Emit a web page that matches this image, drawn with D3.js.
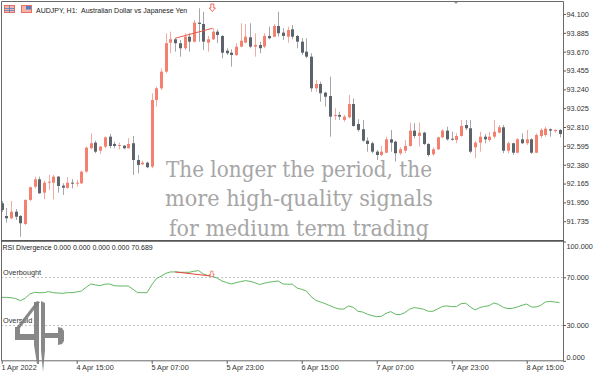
<!DOCTYPE html>
<html>
<head>
<meta charset="utf-8">
<script src="https://cdn.jsdelivr.net/npm/d3@7"></script>
<style>
  body { margin: 0; background: #fff; }
  svg text { font-family: "Liberation Sans", Arial, sans-serif; }
</style>
</head>
<body>
<div class="chart"></div>
<script>
// AUDJPY H1 candles, 1 Apr 23:00 .. 8 Apr 22:00
var open = [
  91.940, 91.795, 91.769, 91.844, 91.795, 91.704, 91.978, 92.130, 92.214, 92.061,
  92.175, 92.175, 92.244, 92.141, 92.115, 92.175, 92.168, 92.168, 92.301, 92.568,
  92.632, 92.540, 92.586, 92.700, 92.617, 92.594, 92.597, 92.568, 92.625, 92.434,
  92.385, 92.403, 92.358, 93.119, 93.252, 93.442, 93.773, 93.811, 93.766, 93.709,
  93.841, 93.784, 94.001, 93.986, 93.773, 93.811, 93.898, 93.849, 93.681, 93.658,
  93.632, 93.727, 93.773, 93.834, 93.727, 93.746, 93.727, 93.849, 93.841, 93.963,
  93.887, 93.841, 93.925, 93.849, 93.784, 93.670, 93.613, 93.252, 93.301, 93.202,
  93.164, 92.936, 92.948, 92.891, 92.921, 93.073, 92.845, 92.785, 92.654, 92.625,
  92.529, 92.491, 92.517, 92.670, 92.643, 92.511, 92.540, 92.594, 92.769, 92.708,
  92.746, 92.617, 92.499, 92.556, 92.693, 92.769, 92.677, 92.662, 92.708, 92.833,
  92.796, 92.579, 92.632, 92.700, 92.662, 92.700, 92.746, 92.807, 92.540, 92.625,
  92.517, 92.670, 92.625, 92.670, 92.517, 92.708, 92.719, 92.785, 92.762, 92.777
];
var high = [
  91.966, 91.886, 91.966, 91.875, 91.806, 91.986, 92.130, 92.244, 92.244, 92.198,
  92.263, 92.263, 92.252, 92.168, 92.237, 92.214, 92.206, 92.312, 92.586, 92.739,
  92.654, 92.594, 92.700, 92.731, 92.643, 92.632, 92.605, 92.682, 92.708, 92.491,
  92.426, 92.415, 93.195, 93.270, 93.480, 93.880, 93.898, 93.823, 93.803, 93.880,
  93.880, 94.031, 94.165, 94.126, 93.849, 93.937, 93.925, 93.860, 93.709, 93.697,
  93.766, 93.994, 93.986, 93.994, 93.880, 93.784, 93.880, 93.955, 93.986, 94.126,
  93.937, 93.955, 93.974, 93.860, 93.823, 93.823, 93.652, 93.347, 93.327, 93.213,
  93.385, 93.024, 92.985, 92.948, 93.176, 93.138, 92.899, 92.891, 92.693, 92.643,
  92.548, 92.594, 92.700, 92.776, 92.654, 92.579, 92.662, 92.860, 92.853, 92.860,
  92.757, 92.625, 92.579, 92.700, 92.785, 92.814, 92.757, 92.739, 92.891, 92.891,
  92.891, 92.654, 92.757, 92.731, 92.757, 92.891, 92.833, 92.833, 92.643, 92.632,
  92.682, 92.739, 92.776, 92.682, 92.739, 92.796, 92.814, 92.796, 92.785, 92.785
];
var low = [
  91.841, 91.719, 91.758, 91.750, 91.559, 91.692, 91.966, 92.111, 92.046, 91.986,
  92.092, 91.986, 92.061, 92.035, 92.107, 92.111, 92.130, 92.160, 92.289, 92.556,
  92.511, 92.503, 92.568, 92.568, 92.568, 92.556, 92.556, 92.564, 92.263, 92.282,
  92.374, 92.340, 92.340, 93.042, 93.233, 93.423, 93.652, 93.670, 93.613, 93.689,
  93.670, 93.773, 93.784, 93.689, 93.670, 93.803, 93.766, 93.595, 93.632, 93.499,
  93.621, 93.720, 93.766, 93.709, 93.613, 93.652, 93.709, 93.811, 93.834, 93.841,
  93.803, 93.773, 93.811, 93.709, 93.632, 93.595, 93.213, 93.213, 93.099, 93.042,
  92.700, 92.891, 92.891, 92.871, 92.910, 92.814, 92.757, 92.643, 92.529, 92.511,
  92.434, 92.480, 92.511, 92.529, 92.415, 92.491, 92.511, 92.586, 92.682, 92.586,
  92.605, 92.472, 92.480, 92.548, 92.682, 92.654, 92.654, 92.625, 92.700, 92.776,
  92.511, 92.454, 92.529, 92.625, 92.643, 92.682, 92.739, 92.511, 92.511, 92.491,
  92.511, 92.617, 92.605, 92.503, 92.511, 92.682, 92.700, 92.700, 92.746, 92.693
];
var close = [
  91.864, 91.769, 91.844, 91.787, 91.712, 91.978, 92.123, 92.214, 92.054, 92.175,
  92.186, 92.244, 92.137, 92.118, 92.175, 92.168, 92.175, 92.301, 92.574, 92.625,
  92.529, 92.586, 92.693, 92.594, 92.594, 92.605, 92.568, 92.617, 92.434, 92.377,
  92.403, 92.351, 93.119, 93.252, 93.442, 93.766, 93.811, 93.766, 93.709, 93.841,
  93.784, 94.001, 93.986, 93.784, 93.811, 93.898, 93.860, 93.658, 93.652, 93.632,
  93.727, 93.795, 93.841, 93.727, 93.746, 93.709, 93.849, 93.823, 93.963, 93.880,
  93.849, 93.917, 93.841, 93.784, 93.658, 93.613, 93.252, 93.301, 93.195, 93.156,
  92.928, 92.948, 92.928, 92.928, 93.073, 92.822, 92.777, 92.654, 92.617, 92.529,
  92.491, 92.529, 92.670, 92.632, 92.511, 92.556, 92.594, 92.769, 92.708, 92.746,
  92.617, 92.491, 92.556, 92.693, 92.769, 92.670, 92.666, 92.708, 92.822, 92.796,
  92.529, 92.632, 92.700, 92.670, 92.700, 92.757, 92.807, 92.540, 92.625, 92.517,
  92.670, 92.625, 92.670, 92.517, 92.719, 92.777, 92.791, 92.769, 92.777, 92.731
];
var rsi = [
  53.2, 53.2, 52.9, 52.1, 50.4, 52.4, 56.0, 57.4, 57.1, 57.1,
  58.0, 57.1, 56.8, 56.6, 57.1, 57.1, 57.7, 58.5, 61.6, 64.4,
  63.6, 63.0, 64.2, 64.4, 63.0, 62.7, 62.7, 62.7, 60.0, 57.1,
  57.1, 57.1, 63.6, 68.9, 70.9, 73.3, 74.5, 74.5, 74.2, 74.2,
  74.2, 75.0, 75.6, 72.8, 71.4, 70.9, 69.2, 66.9, 65.5, 64.4,
  65.5, 66.4, 67.2, 66.6, 65.5, 63.9, 65.0, 65.8, 66.4, 66.9,
  64.4, 64.2, 64.2, 61.0, 59.9, 58.5, 53.8, 50.7, 49.3, 47.9,
  46.2, 44.6, 43.4, 43.4, 46.0, 44.8, 41.5, 40.9, 39.0, 37.9,
  37.0, 37.3, 39.8, 41.2, 39.0, 38.7, 40.4, 43.2, 44.6, 44.0,
  43.2, 41.5, 41.5, 43.4, 45.6, 46.0, 45.4, 45.4, 47.9, 48.2,
  45.1, 42.6, 44.6, 45.6, 46.2, 48.5, 47.3, 44.8, 43.7, 44.0,
  45.1, 46.5, 47.6, 45.1, 45.1, 46.5, 49.3, 49.8, 49.3, 48.7
];

// time axis labels (bar index -> label)
var timeTickIdx = [0, 16, 32, 48, 64, 80, 96, 112];
var timeTickText = ["1 Apr 2022", "4 Apr 15:00", "5 Apr 07:00", "5 Apr 23:00",
  "6 Apr 15:00", "7 Apr 07:00", "7 Apr 23:00", "8 Apr 15:00"];
var priceTicks = [94.100, 93.885, 93.670, 93.455, 93.240, 93.025, 92.810, 92.595,
  92.380, 92.165, 91.950, 91.735];
var rsiTicks = [100, 70, 30, 0];
var rsiLevels = [70, 30];
var rsiLevelNames = ["Overbought", "Oversold"];
// divergence found by the indicator: from bar 37 to bar 45
var divFrom = 37, divTo = 45;

var watermark = ["The longer the period, the", "more high-quality signals", "for medium term trading"];

var svgWidth = 600;
var svgHeight = 375;
var left = 1, right = 563;
var mainTop = 1, mainBottom = 240;
var rsiTop = 241.5, rsiBottom = 360.8;

var bullBody = "#f4816f", bullWick = "#f3aaa0";
var bearBody = "#5d636b", bearWick = "#a3a6aa";

var svg = d3.select(".chart")
  .append("svg")
  .attr("width", svgWidth)
  .attr("height", svgHeight);

var x = d3.scaleLinear().domain([0, close.length - 1]).range([1.7, 559.5]);
var y = d3.scaleLinear().domain([91.521, 94.248]).range([mainBottom, mainTop]);
var yRsi = d3.scaleLinear().domain([0, 100]).range([rsiBottom, rsiTop]);

svg.append("defs").append("clipPath").attr("id", "mainClip")
  .append("rect").attr("x", left).attr("y", mainTop)
  .attr("width", right - left).attr("height", mainBottom - mainTop);

// header icons + title
var icons = svg.append("g");
icons.append("rect").attr("x", 4.5).attr("y", 5.5).attr("width", 10).attr("height", 7)
  .attr("fill", "#f6b3aa").attr("stroke", "#e8705f");
icons.append("path").attr("d", "M9.5,5.5V12.5M4.5,8.5H14.5M4.5,10.5H14.5")
  .attr("stroke", "#4f82c4").attr("stroke-width", 0.8);
icons.append("rect").attr("x", 21.5).attr("y", 5.5).attr("width", 10).attr("height", 7)
  .attr("fill", "#f6b3aa").attr("stroke", "#e8705f");
icons.append("rect").attr("x", 26).attr("y", 6).attr("width", 5).attr("height", 3.5)
  .attr("fill", "#4f82c4");

svg.append("text")
  .attr("x", 36).attr("y", 12.5)
  .attr("font-size", "7px").attr("fill", "#222")
  .attr("xml:space", "preserve")
  .text("AUDJPY, H1:  Australian Dollar vs Japanese Yen");

// watermark text
svg.append("g").selectAll("text")
  .data(watermark)
  .enter().append("text")
    .attr("x", 299)
    .attr("y", function(d, i) { return 176.5 + i * 29.8; })
    .attr("text-anchor", "middle")
    .attr("textLength", function(d, i) { return [266, 268, 260][i]; })
    .attr("lengthAdjust", "spacingAndGlyphs")
    .style("font-family", "'DejaVu Serif', serif")
    .style("font-size", "22px")
    .attr("fill", "#a6a6a6")
    .text(function(d) { return d; });

// candles
var idx = d3.range(close.length);
var chart = svg.append("g").attr("clip-path", "url(#mainClip)");

chart.selectAll("line.wick")
  .data(idx)
  .enter().append("line")
    .attr("class", "wick")
    .attr("x1", function(i) { return Math.round(x(i)) + 0.5; })
    .attr("x2", function(i) { return Math.round(x(i)) + 0.5; })
    .attr("y1", function(i) { return y(high[i]); })
    .attr("y2", function(i) { return y(low[i]); })
    .attr("stroke", function(i) { return close[i] >= open[i] ? bullWick : bearWick; })
    .attr("stroke-width", 1);

chart.selectAll("rect.body")
  .data(idx)
  .enter().append("rect")
    .attr("class", "body")
    .attr("x", function(i) { return Math.round(x(i)) - 1; })
    .attr("width", 3)
    .attr("y", function(i) { return y(Math.max(open[i], close[i])); })
    .attr("height", function(i) {
      return Math.max(1, Math.abs(y(open[i]) - y(close[i])));
    })
    .attr("fill", function(i) { return close[i] >= open[i] ? bullBody : bearBody; });

// divergence line on price + arrow
chart.append("line")
  .attr("x1", x(divFrom)).attr("y1", y(high[divFrom]))
  .attr("x2", x(divTo)).attr("y2", y(high[divTo]))
  .attr("stroke", "#f0584a").attr("stroke-width", 1);

function downArrow(cx, top, s) {
  return "M" + (cx - 1.5 * s) + "," + top + "h" + 3 * s + "v" + 4 * s + "h" + 1.6 * s +
    "l" + (-3.1 * s) + "," + 3.6 * s + "l" + (-3.1 * s) + "," + (-3.6 * s) + "h" + 1.6 * s + "z";
}
svg.append("path")
  .attr("d", downArrow(x(divTo) - 0.3, 4, 1))
  .attr("fill", "#fff").attr("stroke", "#f0584a").attr("stroke-width", 0.9);

// chart shift marker
svg.append("path").attr("d", "M453,1h6l-3,3z").attr("fill", "#a0a0a0");

// price axis
var priceAxis = d3.axisRight(y)
  .tickValues(priceTicks)
  .tickFormat(d3.format(".3f"))
  .tickSize(3)
  .tickPadding(0.5);

var pa = svg.append("g")
  .attr("transform", "translate(" + right + ",0)")
  .call(priceAxis);
pa.select(".domain").remove();
pa.selectAll("line").attr("stroke", "#555");
pa.selectAll("text").attr("font-size", "7.3px").attr("fill", "#333")
  .style("font-family", "'Liberation Sans', Arial, sans-serif");

// RSI panel
var rsiG = svg.append("g");

rsiG.selectAll("line.level")
  .data(rsiLevels)
  .enter().append("line")
    .attr("class", "level")
    .attr("x1", left).attr("x2", right)
    .attr("y1", function(d) { return Math.round(yRsi(d)) + 0.5; })
    .attr("y2", function(d) { return Math.round(yRsi(d)) + 0.5; })
    .attr("stroke", "#c4c4c4")
    .attr("stroke-dasharray", "2,2");

rsiG.selectAll("text.level")
  .data(rsiLevels)
  .enter().append("text")
    .attr("class", "level")
    .attr("x", 3)
    .attr("y", function(d) { return yRsi(d) - 2; })
    .attr("font-size", "7.3px").attr("fill", "#333")
    .text(function(d, i) { return rsiLevelNames[i]; });

rsiG.append("text")
  .attr("x", 2.5).attr("y", 250)
  .attr("font-size", "7px").attr("fill", "#222")
  .text("RSI Divergence 0.000 0.000 0.000 0.000 70.689");

var rsiLine = d3.line()
  .x(function(d, i) { return x(i); })
  .y(function(d) { return yRsi(d); });

rsiG.append("path")
  .datum(rsi)
  .attr("d", rsiLine)
  .attr("fill", "none")
  .attr("stroke", "#62b862")
  .attr("stroke-width", 1);

rsiG.append("line")
  .attr("x1", x(divFrom)).attr("y1", yRsi(rsi[divFrom]))
  .attr("x2", x(divTo)).attr("y2", yRsi(rsi[divTo]))
  .attr("stroke", "#e8453c").attr("stroke-width", 1);

rsiG.append("path")
  .attr("d", downArrow(x(divTo) - 0.8, yRsi(rsi[divTo]) - 5, 0.8))
  .attr("fill", "#fff").attr("stroke", "#f07060").attr("stroke-width", 0.8);

var rsiAxis = d3.axisRight(yRsi)
  .tickValues(rsiTicks)
  .tickFormat(d3.format(".3f"))
  .tickSize(3)
  .tickPadding(0.5);

var ra = svg.append("g")
  .attr("transform", "translate(" + right + ",0)")
  .call(rsiAxis);
ra.select(".domain").remove();
ra.selectAll("line").attr("stroke", "#555");
ra.selectAll("text").attr("font-size", "7.3px").attr("fill", "#333")
  .style("font-family", "'Liberation Sans', Arial, sans-serif")
  .attr("dy", function(d) { return d === 100 ? "0.9em" : d === 0 ? "-0.2em" : "0.32em"; });

// time axis
var timeAxis = d3.axisBottom(x)
  .tickValues(timeTickIdx)
  .tickFormat(function(d, i) { return timeTickText[i]; })
  .tickSize(3)
  .tickPadding(1.5);

var ta = svg.append("g")
  .attr("transform", "translate(0," + rsiBottom + ")")
  .call(timeAxis);
ta.select(".domain").remove();
ta.selectAll("line").attr("stroke", "#555");
ta.selectAll("text")
  .attr("text-anchor", "start")
  .attr("x", -0.8)
  .attr("font-size", "7.3px").attr("fill", "#333")
  .style("font-family", "'Liberation Sans', Arial, sans-serif");

// frames
var frame = svg.append("g").attr("fill", "none").attr("stroke", "#6a6a6a");
frame.append("path").attr("d", "M" + (left + 0.5) + "," + (mainTop + 0.5) + "H" + (right + 0.5) + "V" + (rsiBottom) + "H" + (left + 0.5) + "Z");
frame.append("line")
  .attr("x1", left).attr("x2", right + 1)
  .attr("y1", 240.8).attr("y2", 240.8)
  .attr("stroke-width", 1.8).attr("stroke", "#555");

// logo in the lower left
var logo = [
  [[37, 301], [40, 302], [20, 328], [16, 328]],
  [[15, 327], [20, 327], [20, 334], [34, 334], [34, 340], [15, 340]],
  [[34, 302], [39, 302], [39, 364], [37, 364], [34, 345]],
  [[41, 301], [45, 303], [45, 350], [43, 372], [41, 350]],
  [[45, 333], [58, 333], [58, 338], [45, 338]],
  [[58, 327], [62, 328], [64, 331], [64, 341], [62, 344], [58, 345]]
];
svg.append("g").selectAll("path")
  .data(logo)
  .enter().append("path")
    .attr("d", function(d) { return "M" + d.join("L") + "Z"; })
    .attr("fill", "#7e7e7e")
    .attr("opacity", 0.92);
</script>
</body>
</html>
